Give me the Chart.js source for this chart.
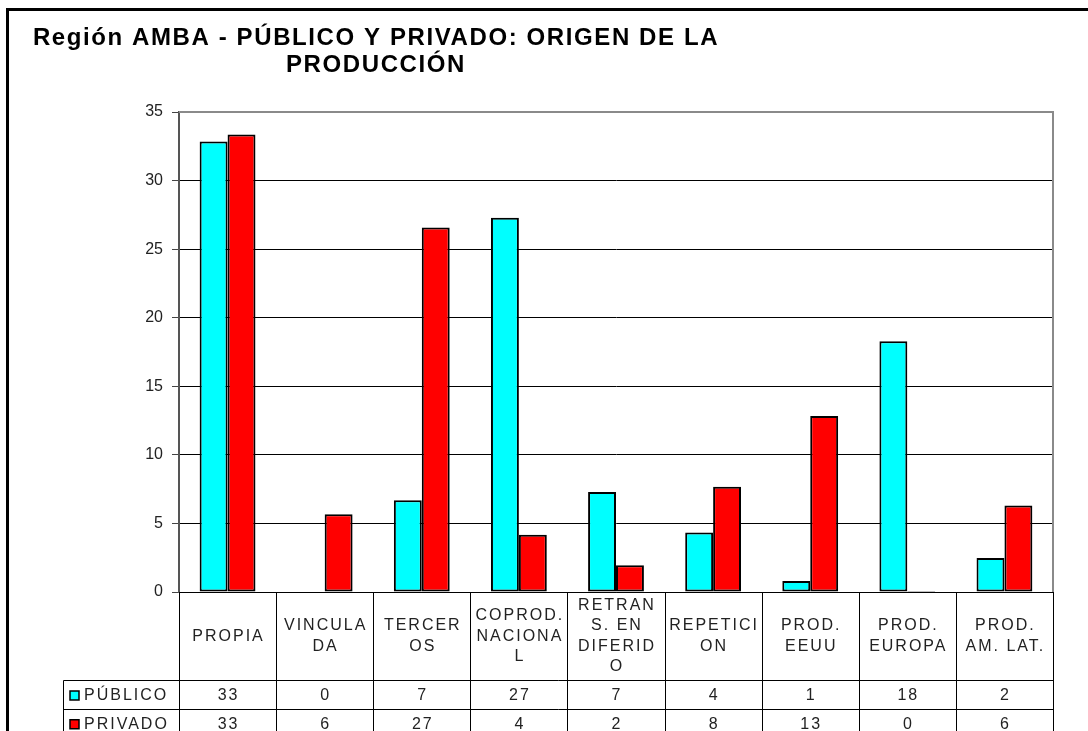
<!DOCTYPE html>
<html>
<head>
<meta charset="utf-8">
<script src="https://cdn.jsdelivr.net/npm/chart.js@4.4.1/dist/chart.umd.min.js"></script>
<style>
  body { margin: 0; background: #fff; }
  canvas { display: block; }
</style>
</head>
<body>
<canvas id="bar-graph" width="1088" height="731"></canvas>
<script>
const labels = [
    ['PROPIA'],
    ['VINCULA', 'DA'],
    ['TERCER', 'OS'],
    ['COPROD.', 'NACIONA', 'L'],
    ['RETRAN', 'S. EN', 'DIFERID', 'O'],
    ['REPETICI', 'ON'],
    ['PROD.', 'EEUU'],
    ['PROD.', 'EUROPA'],
    ['PROD.', 'AM. LAT.']
];

const publico = [32.84, 0, 6.69, 27.28, 7.29, 4.33, 0.8, 18.29, 2.48];
const privado = [33.36, 5.67, 26.57, 4.18, 1.95, 7.68, 12.84, 0.08, 6.3];

const yTicks = [0, 5, 10, 15, 20, 25, 30, 35];

const FONT = '"Liberation Sans", Arial, sans-serif';

// title + frame + data table under the x axis
const tablePlugin = {
    id: 'tablePlugin',
    afterDraw(chart) {
        const ctx = chart.ctx;
        const area = chart.chartArea;
        const x = chart.scales.x;
        const n = labels.length;
        const step = x.getPixelForValue(1) - x.getPixelForValue(0);
        const edge = i => x.getPixelForValue(0) - step / 2 + i * step;

        ctx.save();

        // outer frame
        ctx.strokeStyle = '#000';
        ctx.lineWidth = 3;
        ctx.beginPath();
        ctx.moveTo(7.5, 740);
        ctx.lineTo(7.5, 9.5);
        ctx.lineTo(1100, 9.5);
        ctx.stroke();

        // title
        ctx.fillStyle = '#000';
        ctx.font = 'bold 24px ' + FONT;
        ctx.letterSpacing = '1.6px';
        ctx.textAlign = 'center';
        ctx.textBaseline = 'alphabetic';
        ctx.fillText('Región AMBA - PÚBLICO Y PRIVADO: ORIGEN DE LA', 376, 45);
        ctx.fillText('PRODUCCIÓN', 376, 72);

        // plot border top/right (gray)
        ctx.strokeStyle = '#8a8a8a';
        ctx.lineWidth = 2;
        ctx.beginPath();
        ctx.moveTo(area.left, area.top);
        ctx.lineTo(area.right, area.top);
        ctx.lineTo(area.right, area.bottom);
        ctx.stroke();

        // table grid
        const rowTop = area.bottom;
        const headBottom = 680.5;
        const row1Bottom = 709.5;
        const tableBottom = 740;
        const legendLeft = 63.5;

        ctx.strokeStyle = '#000';
        ctx.lineWidth = 1;
        ctx.beginPath();
        for (let i = 0; i <= n; i++) {
            const px = Math.round(edge(i)) + 0.5;
            ctx.moveTo(px, rowTop);
            ctx.lineTo(px, tableBottom);
        }
        ctx.moveTo(legendLeft, headBottom);
        ctx.lineTo(legendLeft, tableBottom);
        ctx.moveTo(legendLeft, headBottom);
        ctx.lineTo(edge(n), headBottom);
        ctx.moveTo(legendLeft, row1Bottom);
        ctx.lineTo(edge(n), row1Bottom);
        ctx.stroke();

        // header labels
        ctx.font = '16px ' + FONT;
        ctx.letterSpacing = '2px';
        ctx.fillStyle = '#222';
        ctx.textBaseline = 'middle';
        ctx.textAlign = 'center';
        const lh = 20.5;
        const headMid = (rowTop + headBottom) / 2;
        labels.forEach((lines, i) => {
            const cx = x.getPixelForValue(i) + 1;
            const y0 = headMid - (lines.length - 1) * lh / 2;
            lines.forEach((t, j) => ctx.fillText(t, cx, y0 + j * lh));
        });

        // values
        const rows = [
            { name: 'PÚBLICO', data: publico, color: '#00ffff', y: (headBottom + row1Bottom) / 2 + 1 },
            { name: 'PRIVADO', data: privado, color: '#ff0000', y: (row1Bottom + tableBottom) / 2 }
        ];
        rows.forEach(r => {
            ctx.textAlign = 'center';
            r.data.forEach((v, i) => {
                ctx.fillText(String(Math.round(v)), x.getPixelForValue(i) + 1, r.y);
            });
            // legend key
            ctx.fillStyle = r.color;
            ctx.fillRect(70, r.y - 5, 9, 9);
            ctx.strokeStyle = '#000';
            ctx.lineWidth = 1.5;
            ctx.strokeRect(70, r.y - 5, 9, 9);
            ctx.fillStyle = '#222';
            ctx.textAlign = 'left';
            ctx.fillText(r.name, 84, r.y);
        });

        ctx.restore();
    }
};

new Chart(
    document.getElementById('bar-graph'),
    {
        type: 'bar',
        data: {
            labels: labels,
            datasets: [
                {
                    label: 'PÚBLICO',
                    data: publico,
                    backgroundColor: '#00ffff',
                    borderColor: '#000',
                    borderWidth: 2,
                    borderSkipped: false
                },
                {
                    label: 'PRIVADO',
                    data: privado,
                    backgroundColor: '#ff0000',
                    borderColor: '#000',
                    borderWidth: 2,
                    borderSkipped: false
                }
            ]
        },
        options: {
            responsive: false,
            animation: false,
            devicePixelRatio: 1,
            categoryPercentage: 0.575,
            barPercentage: 1,
            layout: {
                padding: { left: 0, top: 112, right: 35, bottom: 0 }
            },
            plugins: {
                legend: { display: false },
                title: { display: false },
                tooltip: { enabled: false }
            },
            scales: {
                x: {
                    ticks: { display: false },
                    grid: { display: false },
                    border: { display: true, color: '#000', width: 1 },
                    afterFit: s => { s.height = 139; }
                },
                y: {
                    min: 0,
                    max: 35,
                    afterBuildTicks: s => { s.ticks = yTicks.map(v => ({ value: v })); },
                    ticks: {
                        padding: 9,
                        color: '#222',
                        font: { family: FONT, size: 16 }
                    },
                    grid: {
                        color: c => c.tick.value === 35 ? '#8a8a8a' : '#000',
                        lineWidth: 1,
                        tickLength: 7,
                        tickColor: '#444'
                    },
                    border: { display: true, color: '#555', width: 2 },
                    afterFit: s => { s.width = 179; }
                }
            }
        },
        plugins: [tablePlugin]
    }
);
</script>
</body>
</html>
